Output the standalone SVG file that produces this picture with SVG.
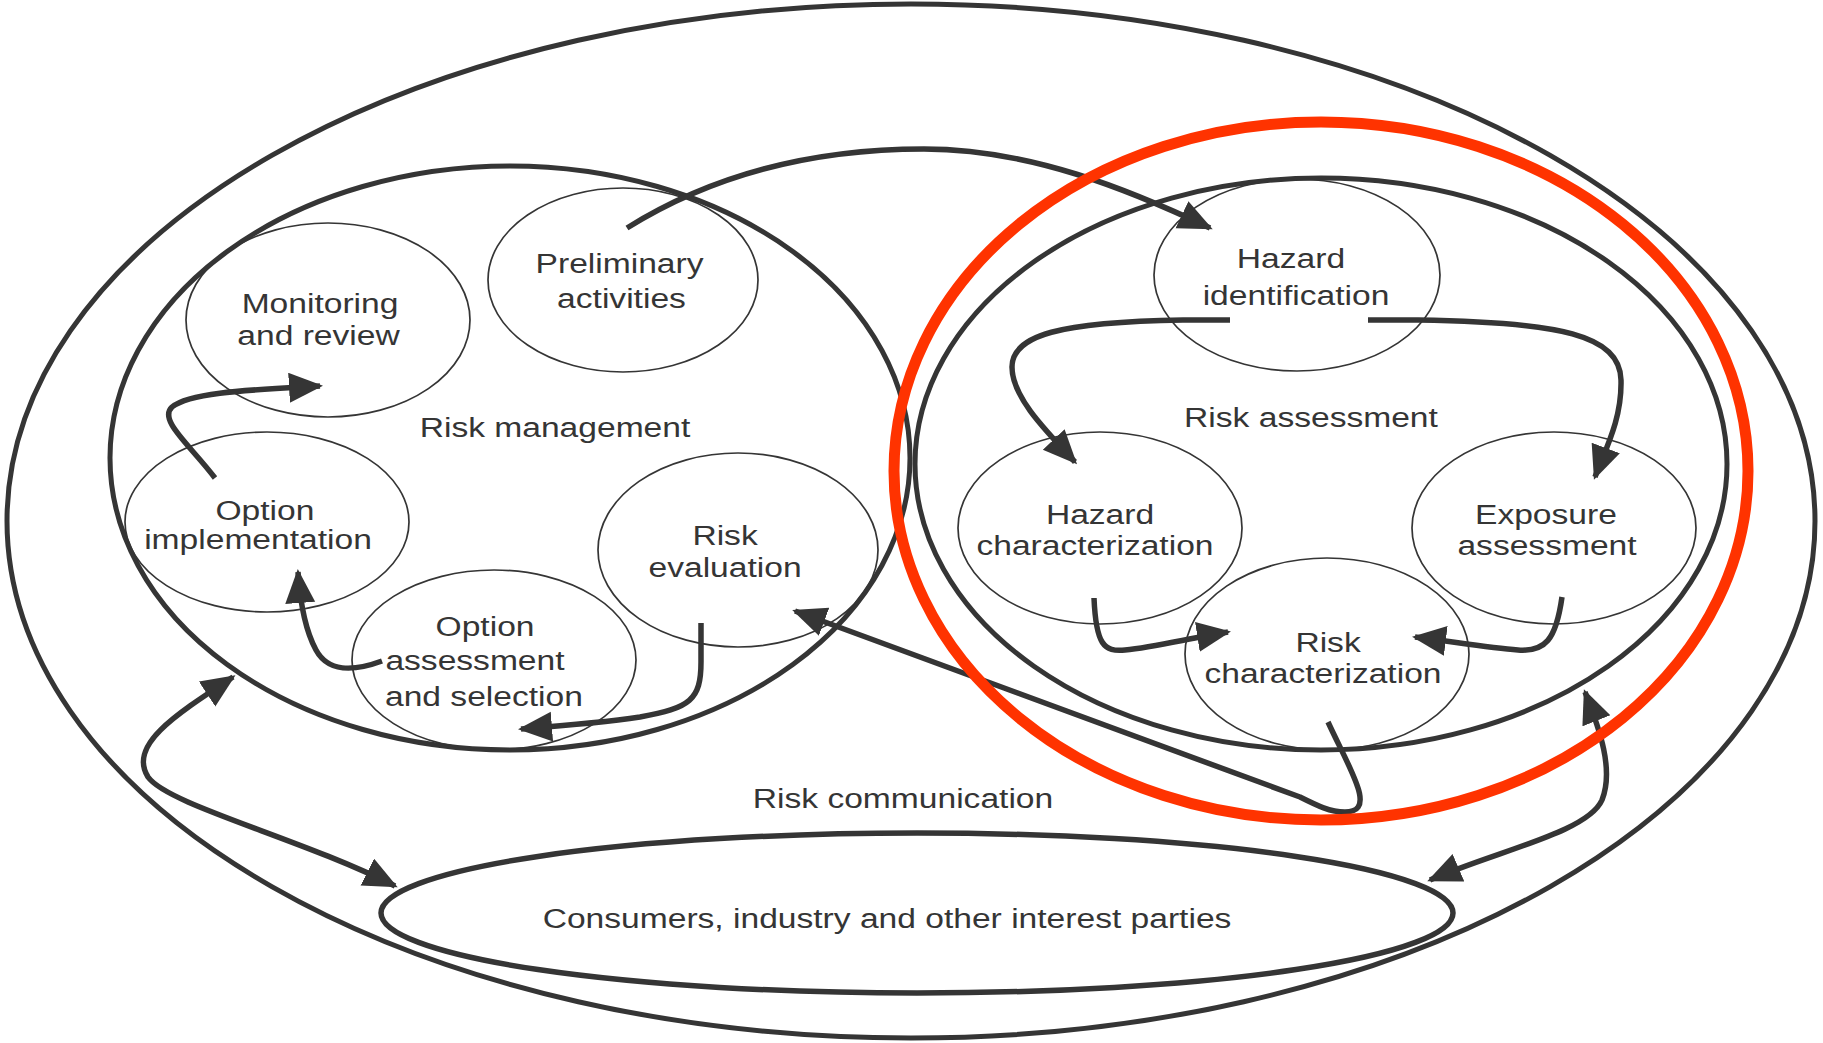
<svg xmlns="http://www.w3.org/2000/svg" width="1823" height="1043" viewBox="0 0 1823 1043">
<style>
.big{fill:none;stroke:#353535;stroke-width:5}
.node{fill:none;stroke:#353535;stroke-width:1.7}
.con{fill:none;stroke:#353535;stroke-width:5.5;stroke-linecap:butt;stroke-linejoin:round}
.red{fill:none;stroke:#ff3300;stroke-width:11}
text{font-family:"Liberation Sans",Arial,sans-serif;font-size:28px;fill:#353535;text-anchor:middle}
</style>
<defs>
<marker id="ah" markerUnits="userSpaceOnUse" markerWidth="36" markerHeight="32" refX="31" refY="15" orient="auto-start-reverse" viewBox="0 0 36 32">
<path d="M0,0 L34,15 L0,30 z" fill="#353535"/>
</marker>
</defs>
<rect width="1823" height="1043" fill="#ffffff"/>

<g id="risk-communication">
<ellipse class="big" cx="911" cy="521" rx="904" ry="517"/>
<g transform="scale(1.2,1)"><text x="752.5" y="808">Risk communication</text></g>
</g>

<g id="risk-management">
<ellipse class="big" cx="510" cy="458" rx="400" ry="292"/>
<g transform="scale(1.2,1)"><text x="462.5" y="437">Risk management</text></g>
</g>

<g id="monitoring">
<ellipse class="node" cx="328" cy="320" rx="142" ry="97"/>
<g transform="scale(1.2,1)"><text x="266.7" y="313">Monitoring</text><text x="265.4" y="345">and review</text></g>
</g>

<g id="preliminary">
<ellipse class="node" cx="623" cy="280" rx="135" ry="92"/>
<g transform="scale(1.2,1)"><text x="516.3" y="273">Preliminary</text><text x="517.9" y="308">activities</text></g>
</g>

<g id="option-implementation">
<ellipse class="node" cx="267" cy="522" rx="142" ry="90"/>
<g transform="scale(1.2,1)"><text x="220.8" y="520">Option</text><text x="215" y="549">implementation</text></g>
</g>

<g id="option-assessment">
<ellipse class="node" cx="494" cy="660" rx="142" ry="90"/>
<g transform="scale(1.2,1)"><text x="404.2" y="636">Option</text><text x="395.8" y="670">assessment</text><text x="403.3" y="706">and selection</text></g>
</g>

<g id="risk-evaluation">
<ellipse class="node" cx="738" cy="550" rx="140" ry="97"/>
<g transform="scale(1.2,1)"><text x="604.2" y="545">Risk</text><text x="604.2" y="577">evaluation</text></g>
</g>

<g id="risk-assessment">
<ellipse class="big" cx="1321" cy="464" rx="406" ry="286"/>
<g transform="scale(1.2,1)"><text x="1092.5" y="427">Risk assessment</text></g>
</g>

<g id="hazard-identification">
<ellipse class="node" cx="1297" cy="275" rx="143" ry="96"/>
<g transform="scale(1.2,1)"><text x="1075.8" y="268">Hazard</text><text x="1080" y="305">identification</text></g>
</g>

<g id="hazard-characterization">
<ellipse class="node" cx="1100" cy="528" rx="142" ry="96"/>
<g transform="scale(1.2,1)"><text x="916.7" y="524">Hazard</text><text x="912.5" y="555">characterization</text></g>
</g>

<g id="exposure-assessment">
<ellipse class="node" cx="1554" cy="528" rx="142" ry="96"/>
<g transform="scale(1.2,1)"><text x="1288.3" y="524">Exposure</text><text x="1289.2" y="555">assessment</text></g>
</g>

<g id="risk-characterization">
<ellipse class="node" cx="1327" cy="654" rx="142" ry="96"/>
<g transform="scale(1.2,1)"><text x="1106.7" y="652">Risk</text><text x="1102.5" y="683">characterization</text></g>
</g>

<g id="consumers">
<ellipse class="big" cx="917" cy="913" rx="536" ry="80" style="stroke-width:5.5"/>
<g transform="scale(1.2,1)"><text x="739.2" y="928">Consumers, industry and other interest parties</text></g>
</g>

<g id="connectors">
<path class="con" marker-end="url(#ah)" d="M627,228 C720,170 820,149 924,149 C1030,149 1130,190 1210,228"/>
<path class="con" marker-end="url(#ah)" d="M1230,320 L1183,320 C1060,322 1012,335 1012,367 C1012,395 1040,425 1075,462"/>
<path class="con" marker-end="url(#ah)" d="M1368,320 L1418,320 C1560,322 1620,335 1621,380 C1622,420 1605,450 1595,477"/>
<path class="con" marker-end="url(#ah)" d="M1094,598 C1096,645 1104,652 1125,650 C1155,647 1190,638 1228,632"/>
<path class="con" marker-end="url(#ah)" d="M1562,597 C1556,640 1545,652 1518,650 C1490,648 1455,642 1415,637"/>
<path class="con" marker-end="url(#ah)" d="M1328,722 C1350,770 1378,812 1345,812 C1330,812 1318,806 1300,797 L795,611"/>
<path class="con" marker-end="url(#ah)" d="M701,623 L701,662 C701,700 690,708 640,717 C600,723 560,726 521,729"/>
<path class="con" marker-end="url(#ah)" d="M382,661 C352,672 328,672 316,650 C304,628 300,600 298,572"/>
<path class="con" marker-end="url(#ah)" d="M215,478 C190,445 158,420 172,407 C190,392 250,390 320,386"/>
<path class="con" marker-start="url(#ah)" marker-end="url(#ah)" d="M233,677 C175,715 128,745 148,777 C168,805 300,838 395,886"/>
<path class="con" marker-start="url(#ah)" marker-end="url(#ah)" d="M1585,692 C1600,730 1614,770 1602,800 C1588,832 1500,850 1430,880"/>
</g>

<g id="highlight">
<ellipse class="red" cx="1321" cy="471" rx="427" ry="349"/>
</g>
</svg>
